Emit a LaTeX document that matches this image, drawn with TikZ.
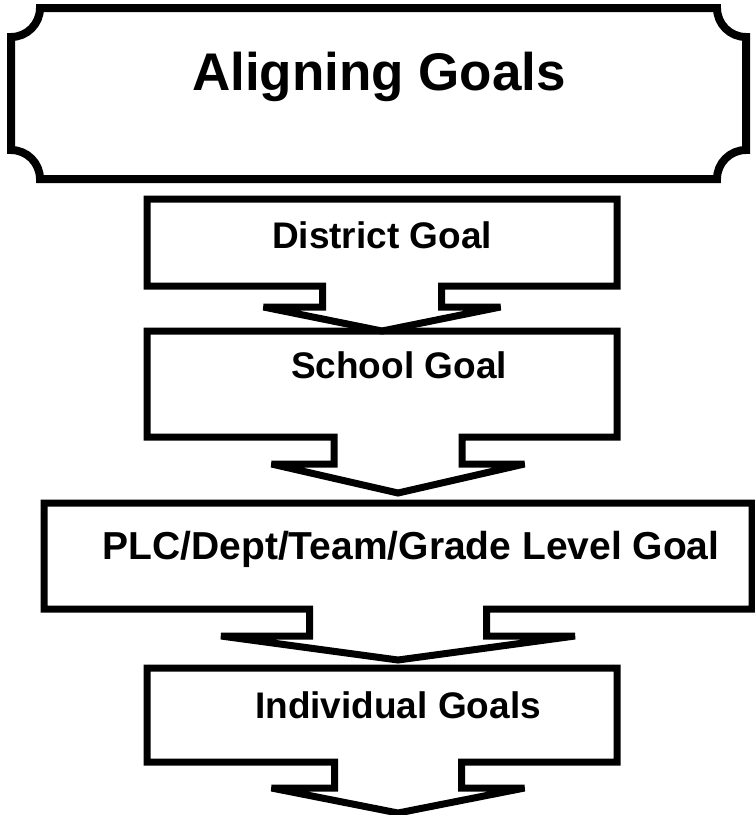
\documentclass[tikz,border=0pt]{standalone}
\usepackage{fontspec}
\setmainfont{Liberation Sans}
\newcommand{\goalshape}[9]{%
  \draw[boxline] (#1,-#3) -- (#2,-#3) -- (#2,-#4) -- ({#5+#6},-#4) -- ({#5+#6},-#7)
    -- ({#5+#8},-#7) -- (#5,-#9) -- ({#5-#8},-#7) -- ({#5-#6},-#7) -- ({#5-#6},-#4)
    -- (#1,-#4) -- cycle;}
\begin{document}
\begin{tikzpicture}[x=1pt,y=1pt,
  boxline/.style={draw=black, line width=7pt, line join=miter, miter limit=2},
  plaqueline/.style={draw=black, line width=8pt},
  goaltext/.style={font=\bfseries\fontsize{37}{40}\selectfont, anchor=base, inner sep=0pt},
  titletext/.style={font=\bfseries\fontsize{53}{56}\selectfont, anchor=base, inner sep=0pt}]
\useasboundingbox (0,0) rectangle (755,-815);
\fill[white] (0,0) rectangle (755,-815);
% plaque
\draw[plaqueline] (40,-8) -- (717,-8) arc (180:270:29) -- (746,-150) arc (90:180:29)
  -- (40,-179) arc (0:90:29) -- (11,-37) arc (270:360:29) -- cycle;
\node[titletext] (title) at (379,-90) {Aligning Goals};
% goal boxes with arrows
\goalshape{147}{617}{199}{286}{382}{59.5}{307}{118.5}{331}
\goalshape{147}{617}{331}{437}{398}{64}{464}{126.5}{493}
\goalshape{44}{752}{503}{609}{398}{88.5}{636}{177}{660}
\goalshape{147}{617}{668}{762}{398}{63.5}{788}{126.5}{813}
\node[goaltext] (district) at (382,-248) {District Goal};
\node[goaltext] (school) at (399,-378) {School Goal};
\node[goaltext, font=\bfseries\fontsize{39}{42}\selectfont] (plc) at (411,-559) {PLC/Dept/Team/Grade Level Goal};
\node[goaltext] (indiv) at (398,-718) {Individual Goals};
\end{tikzpicture}
\end{document}
